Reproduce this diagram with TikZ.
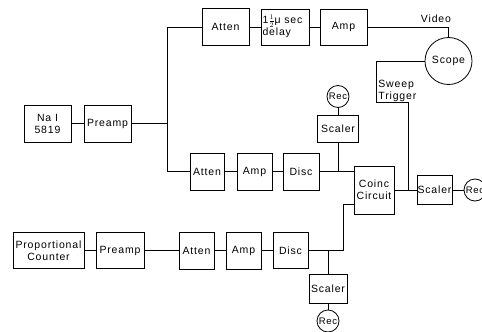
\documentclass[tikz,border=0pt]{standalone}
\usepackage{fontspec}
\setmainfont[LetterSpace=8]{Liberation Sans}
\begin{document}
\begin{tikzpicture}[x=1pt,y=-1pt,
  every path/.style={line width=0.8pt},
  lbl/.style={font=\fontsize{10.5}{12}\selectfont, inner sep=0pt},
  box/.style={draw, line width=0.8pt, inner sep=0.5pt, font=\fontsize{10.5}{12}\selectfont, align=center},
  rec/.style={draw, circle, line width=0.8pt, minimum size=22pt, inner sep=0pt, font=\fontsize{9.5}{11}\selectfont},
]
\useasboundingbox (0,0) rectangle (482,332);
% top chain
\node[box, minimum width=47pt, minimum height=37pt] (nai) at (47.5,123.5) {Na I\\5819};
\node[box, minimum width=47pt, minimum height=37pt] (pre1) at (107.5,123.5) {Preamp};
\node[box, minimum width=47pt, minimum height=37pt] (atten1) at (225.5,27) {Atten};
\node[box, minimum width=48pt, minimum height=36pt, align=left, text width=45pt] (delay) at (285,27) {1\smash{$\frac{1}{2}$}μ sec\\delay};
\node[box, minimum width=47pt, minimum height=36pt] (amp1) at (343.5,27) {Amp};
\node[draw, circle, line width=0.8pt, minimum size=47pt, inner sep=0pt, font=\fontsize{10.5}{12}\selectfont] (scope) at (448.5,61) {Scope};
\node[lbl] (video) at (436,19) {Video};
\node[lbl, anchor=west, align=left] (sweep) at (378,90.5) {Sweep\\Trigger};
% middle chain
\node[box, minimum width=34pt, minimum height=37pt] (atten2) at (207,171.5) {Atten};
\node[box, minimum width=35pt, minimum height=37pt] (amp2) at (254.5,171.5) {Amp};
\node[box, minimum width=36pt, minimum height=37pt] (disc1) at (301,171.5) {Disc};
\node[rec] (rec1) at (338,96.5) {Rec};
\node[box, minimum width=41pt, minimum height=27pt] (scaler1) at (338,128.5) {Scaler};
\node[box, minimum width=40pt, minimum height=48pt] (coinc) at (374,190) {Coinc\\Circuit};
\node[box, minimum width=35pt, minimum height=29pt] (scaler2) at (434.5,190) {Scaler};
\node[rec] (rec2) at (475,190) {Rec};
% bottom chain
\node[box, minimum width=71pt, minimum height=36pt] (prop) at (48.5,250.5) {Proportional\\Counter};
\node[box, minimum width=48pt, minimum height=36pt] (pre2) at (120,250.5) {Preamp};
\node[box, minimum width=35pt, minimum height=37pt] (atten3) at (196.5,250.5) {Atten};
\node[box, minimum width=35pt, minimum height=37pt] (amp3) at (243.5,250.5) {Amp};
\node[box, minimum width=35pt, minimum height=36pt] (disc2) at (290.5,250.5) {Disc};
\node[box, minimum width=38pt, minimum height=29pt] (scaler3) at (328,288.5) {Scaler};
\node[rec] (rec3) at (328,321) {Rec};
% coordinates
\coordinate (bt) at (167,27);
\coordinate (bb) at (167,171.5);
\coordinate (s1) at (376,61);
\coordinate (s2) at (376,102);
\coordinate (s3) at (408,102);
\coordinate (j1) at (408,190);
\coordinate (c2) at (343,250.5);
\coordinate (c3) at (343,204);
% connectors
\draw (nai) -- (pre1);
\draw (pre1.east) -- (pre1.east -| bt);
\draw (atten1.west) -- (bt) -- (bb) -- (atten2.west);
\draw (atten1) -- (delay);
\draw (delay) -- (amp1);
\draw (amp1.east) -| (scope.north);
\draw (scope.west) -- (s1) -- (s2) -- (s3) -- (j1);
\draw (atten2) -- (amp2);
\draw (amp2) -- (disc1);
\draw (disc1.east) -- (disc1.east -| coinc.west);
\draw (rec1) -- (scaler1);
\draw (scaler1.south) -- (scaler1.south |- disc1.east);
\draw (coinc.east) -- (scaler2.west);
\draw (scaler2) -- (rec2);
\draw (prop) -- (pre2);
\draw (pre2) -- (atten3);
\draw (atten3) -- (amp3);
\draw (amp3) -- (disc2);
\draw (disc2.east) -- (c2) -- (c3) -- (c3 -| coinc.west);
\draw (scaler3.north) -- (scaler3.north |- c2);
\draw (scaler3) -- (rec3);
\end{tikzpicture}
\end{document}
